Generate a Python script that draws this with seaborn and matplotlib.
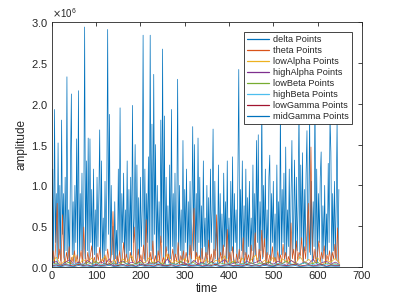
import numpy as np
import pandas as pd
import matplotlib
matplotlib.use("Agg")
from matplotlib import pyplot as plt
from matplotlib.ticker import ScalarFormatter
import seaborn as sns

# delta sampled every 2 time steps, in 1e6
delta = [0.1, 1.2, 0.05, 1.93, 0.3, 0.9, 0.02, 1.52, 0.15, 1.0,
         0.08, 1.8, 0.4, 0.9, 0.05, 1.1, 0.2, 2.33, 0.1, 0.7,
         0.03, 1.25, 2.12, 0.15, 0.8, 0.05, 1.0, 0.3, 1.57, 0.1,
         2.16, 0.05, 0.9, 0.2, 1.15, 0.04, 0.6, 2.94, 0.1, 1.3,
         0.2, 1.58, 0.06, 1.57, 0.3, 0.95, 0.02, 1.2, 0.15, 0.7,
         0.05, 1.1, 0.25, 0.85, 1.68, 0.08, 1.3, 0.1, 0.6, 0.03,
         1.05, 0.2, 0.9, 2.91, 0.4, 1.87, 0.05, 1.0, 0.15, 0.5,
         0.04, 0.8, 0.1, 0.45, 0.02, 1.2, 0.2, 1.95, 0.06, 0.9,
         0.3, 1.15, 0.05, 0.7, 0.12, 1.3, 0.04, 0.95, 0.2, 1.1,
         0.08, 1.98, 0.3, 0.6, 1.5, 0.05, 1.25, 0.15, 0.85, 0.02,
         1.1, 0.25, 0.7, 2.84, 0.1, 1.2, 0.05, 0.9, 0.3, 1.35,
         0.06, 2.84, 0.2, 1.75, 0.1, 2.36, 0.4, 1.5, 0.03, 1.0,
         0.15, 0.8, 0.05, 1.8, 0.3, 2.67, 0.1, 1.85, 0.04, 1.1,
         0.2, 0.75, 0.05, 1.25, 0.1, 1.93, 0.25, 0.9, 0.03, 1.15,
         0.15, 0.6, 2.3, 0.08, 1.0, 0.2, 0.7, 0.04, 1.55, 0.1,
         0.95, 0.3, 1.2, 0.05, 0.8, 0.15, 1.05, 0.02, 0.6, 1.72,
         0.2, 1.5, 0.06, 0.9, 0.12, 1.58, 0.3, 1.1, 0.04, 0.75,
         0.1, 1.3, 0.25, 0.6, 0.02, 1.0, 0.15, 0.85, 0.05, 1.2,
         0.3, 0.7, 1.69, 0.08, 1.05, 0.2, 0.55, 0.03, 1.25, 0.1,
         0.9, 0.15, 0.65, 0.04, 1.15, 0.25, 0.8, 0.06, 1.3, 0.1,
         0.6, 0.02, 1.05, 0.2, 1.35, 0.05, 0.9, 0.3, 0.7, 0.04,
         1.1, 2.42, 0.1, 0.95, 0.2, 1.3, 0.05, 0.75, 0.15, 1.2,
         0.03, 0.85, 0.25, 1.05, 0.08, 0.6, 0.2, 1.25, 0.04, 0.9,
         0.15, 1.55, 0.3, 1.62, 0.06, 0.8, 0.2, 2.1, 0.1, 1.0,
         0.25, 1.2, 0.04, 0.7, 0.15, 1.1, 1.37, 0.05, 0.9, 0.3,
         1.05, 0.1, 0.65, 0.02, 1.25, 0.2, 0.8, 0.06, 2.0, 0.15,
         0.95, 0.3, 1.15, 0.05, 1.47, 0.1, 0.7, 0.25, 1.2, 0.03,
         0.85, 1.55, 0.15, 0.6, 1.31, 0.05, 1.1, 0.2, 0.75, 2.0,
         0.1, 1.25, 0.3, 1.4, 0.04, 0.95, 0.2, 1.15, 1.67, 0.08,
         0.7, 1.9, 0.15, 1.05, 0.03, 0.8, 0.25, 2.2, 0.1, 1.2,
         0.05, 0.9, 0.3, 1.1, 1.41, 0.06, 0.75, 0.2, 1.0, 0.04,
         0.65, 0.15, 1.27, 0.3, 1.85, 1.41, 0.05, 0.9, 0.2, 1.05,
         0.1, 0.8, 1.8, 0.06, 0.95]

# theta sampled every 3 time steps, in 1e6
theta = [0.08, 0.2, 0.04, 0.3, 0.78, 0.1, 0.22, 0.03, 0.64, 0.12,
         0.04, 0.18, 0.07, 0.25, 0.02, 0.12, 0.06, 0.2, 0.05, 0.15,
         0.03, 0.1, 0.2, 0.05, 0.49, 0.1, 0.03, 0.18, 0.06, 0.14,
         0.26, 0.05, 0.12, 0.02, 0.17, 0.08, 0.24, 0.04, 0.1, 0.06,
         0.15, 0.03, 0.22, 0.08, 0.05, 0.18, 0.68, 0.1, 0.04, 0.14,
         0.06, 0.2, 0.03, 0.1, 0.3, 0.05, 0.16, 0.08, 0.02, 0.18,
         0.1, 0.05, 0.49, 0.12, 0.04, 0.22, 0.06, 0.15, 0.05, 0.27,
         0.08, 0.58, 0.1, 0.03, 0.18, 0.06, 0.32, 0.05, 0.14, 0.03,
         0.2, 0.08, 0.38, 0.05, 0.12, 0.04, 0.25, 0.09, 0.16, 0.02,
         0.1, 0.22, 0.05, 0.16, 0.06, 0.3, 0.03, 0.14, 0.08, 0.2,
         0.04, 0.18, 0.1, 0.05, 0.27, 0.1, 0.4, 0.72, 0.08, 0.18,
         0.04, 0.14, 0.06, 0.23, 0.03, 0.1, 0.18, 0.05, 0.33, 0.07,
         0.16, 0.04, 0.22, 0.1, 0.64, 0.12, 0.05, 0.18, 0.08, 0.27,
         0.03, 0.14, 0.46, 0.06, 0.18, 0.05, 0.25, 0.1, 0.03, 0.16,
         0.07, 0.22, 0.05, 0.12, 0.36, 0.04, 0.18, 0.08, 0.15, 0.05,
         0.27, 0.06, 0.18, 0.42, 0.1, 0.05, 0.22, 0.08, 0.45, 0.12,
         0.35, 0.05, 0.18, 0.04, 0.15, 0.08, 0.25, 0.06, 0.12, 0.03,
         0.2, 0.07, 0.15, 0.05, 0.28, 0.1, 0.18, 0.04, 0.13, 0.06,
         0.54, 0.1, 0.22, 0.05, 0.32, 0.08, 0.18, 0.14, 0.36, 0.06,
         0.25, 0.1, 0.45, 0.78, 0.18, 1.47, 0.28, 0.08, 0.22, 0.05,
         0.17, 0.32, 0.06, 0.18, 0.1, 0.26, 0.04, 0.15, 0.08, 0.2,
         0.05, 0.18, 0.1, 0.28, 0.08, 0.48, 0.05]

# smaller bands every 10 time steps, in 1e3
low_alpha = [60, 120, 30, 80, 45, 150, 25, 90, 55, 110, 35, 70, 130, 40, 85, 20, 100, 60, 140, 30, 75, 50,
             115, 35, 90, 25, 160, 45, 80, 55, 105, 30, 70, 125, 40, 95, 20, 85, 60, 135, 35, 75, 50, 110,
             30, 90, 145, 40, 80, 55, 120, 25, 100, 65, 85, 35, 130, 50, 95, 40, 115, 30, 80, 60, 105, 45]
high_alpha = [40, 70, 20, 55, 90, 30, 60, 25, 80, 45, 15, 65, 35, 100, 20, 50, 75, 30, 60, 40, 85, 25,
              55, 35, 70, 20, 95, 45, 30, 65, 50, 25, 80, 40, 60, 15, 70, 35, 55, 90, 30, 45, 65, 20,
              75, 40, 55, 85, 25, 60, 35, 70, 45, 20, 80, 50, 30, 65, 40, 95, 25, 55, 70, 35, 60, 30]
low_beta = [30, 50, 15, 40, 60, 20, 45, 25, 55, 35, 70, 20, 40, 30, 50, 15, 65, 35, 25, 45, 55, 20,
            40, 60, 30, 50, 15, 45, 35, 70, 25, 40, 55, 20, 45, 30, 60, 25, 50, 35, 40, 65, 20, 45,
            30, 55, 25, 50, 40, 60, 20, 35, 45, 70, 30, 40, 25, 55, 35, 45, 60, 20, 50, 30, 40, 25]
high_beta = [20, 35, 15, 40, 25, 30, 45, 20, 35, 15, 50, 25, 30, 40, 20, 35, 25, 45, 15, 30, 40, 20,
             35, 25, 50, 15, 30, 40, 25, 35, 20, 45, 30, 15, 40, 25, 35, 50, 20, 30, 40, 15, 35, 25,
             45, 20, 30, 40, 25, 35, 15, 45, 30, 20, 40, 25, 35, 50, 20, 30, 40, 25, 35, 15, 30, 20]
low_gamma = [15, 25, 10, 30, 20, 12, 35, 18, 25, 10, 28, 15, 22, 40, 12, 20, 30, 15, 25, 10, 35, 18,
             22, 12, 30, 20, 15, 28, 10, 25, 38, 15, 20, 30, 12, 25, 18, 35, 10, 22, 28, 15, 20, 12,
             32, 18, 25, 15, 40, 20, 10, 30, 22, 15, 25, 35, 12, 20, 28, 15, 22, 30, 10, 25, 18, 20]
mid_gamma = [8, 12, 5, 15, 10, 6, 18, 9, 12, 5, 14, 8, 11, 20, 6, 10, 15, 8, 12, 5, 18, 9,
             11, 6, 15, 10, 8, 14, 5, 12, 19, 8, 10, 15, 6, 12, 9, 17, 5, 11, 14, 8, 10, 6,
             16, 9, 12, 8, 20, 10, 5, 15, 11, 8, 12, 17, 6, 10, 14, 8, 11, 15, 5, 12, 9, 10]

labels = ['delta Points', 'theta Points', 'lowAlpha Points', 'highAlpha Points',
          'lowBeta Points', 'highBeta Points', 'lowGamma Points', 'midGamma Points']
colors = ['#0072BD', '#D95319', '#EDB120', '#7E2F8E', '#77AC30', '#4DBEEE', '#A2142F', '#0072BD']

series = [(delta, 2, 1e6), (theta, 3, 1e6), (low_alpha, 10, 1e3), (high_alpha, 10, 1e3),
          (low_beta, 10, 1e3), (high_beta, 10, 1e3), (low_gamma, 10, 1e3), (mid_gamma, 10, 1e3)]

frames = []
for lab, (vals, step, scale) in zip(labels, series):
    vals = np.array(vals, dtype=float) * scale
    frames.append(pd.DataFrame({'time': np.arange(len(vals)) * step, 'amplitude': vals, 'band': lab}))
df = pd.concat(frames, ignore_index=True)

sns.set_style('white')
plt.rcParams['font.family'] = ['Liberation Sans', 'DejaVu Sans']

fig = plt.figure(figsize=(3.99, 2.99), dpi=100)
ax = fig.add_axes([0.13, 0.107, 0.777, 0.819])
sns.lineplot(data=df, x='time', y='amplitude', hue='band', hue_order=labels,
             palette=colors, linewidth=0.5, estimator=None, sort=False, ax=ax)

ax.set_xlim(0, 700)
ax.set_ylim(0, 3e6)
ax.set_xticks(np.arange(0, 701, 100))
ax.set_yticks(np.arange(0, 3.01e6, 0.5e6))
fmt = ScalarFormatter(useMathText=True)
fmt.set_powerlimits((0, 0))
ax.yaxis.set_major_formatter(fmt)
ax.yaxis.get_offset_text().set_fontsize(7)
ax.yaxis.get_offset_text().set_color('0.3')
ax.tick_params(direction='in', length=3, width=0.6, labelsize=8, colors='0.15',
               top=True, right=True, pad=3)
for sp in ax.spines.values():
    sp.set_color('0.15')
    sp.set_linewidth(0.6)
ax.set_xlabel('time', fontsize=8.5, labelpad=1)
ax.set_ylabel('amplitude', fontsize=8.5, labelpad=2)

leg = ax.legend(loc='upper right', bbox_to_anchor=(0.968, 0.96), fontsize=6.6,
                frameon=True, fancybox=False, edgecolor='0.15', framealpha=1,
                handlelength=2.4, labelspacing=0.22, borderpad=0.35, handletextpad=0.4,
                borderaxespad=0)
leg.get_frame().set_linewidth(0.6)
for line in leg.get_lines():
    line.set_linewidth(0.9)

fig.savefig('out.png', dpi=100)
